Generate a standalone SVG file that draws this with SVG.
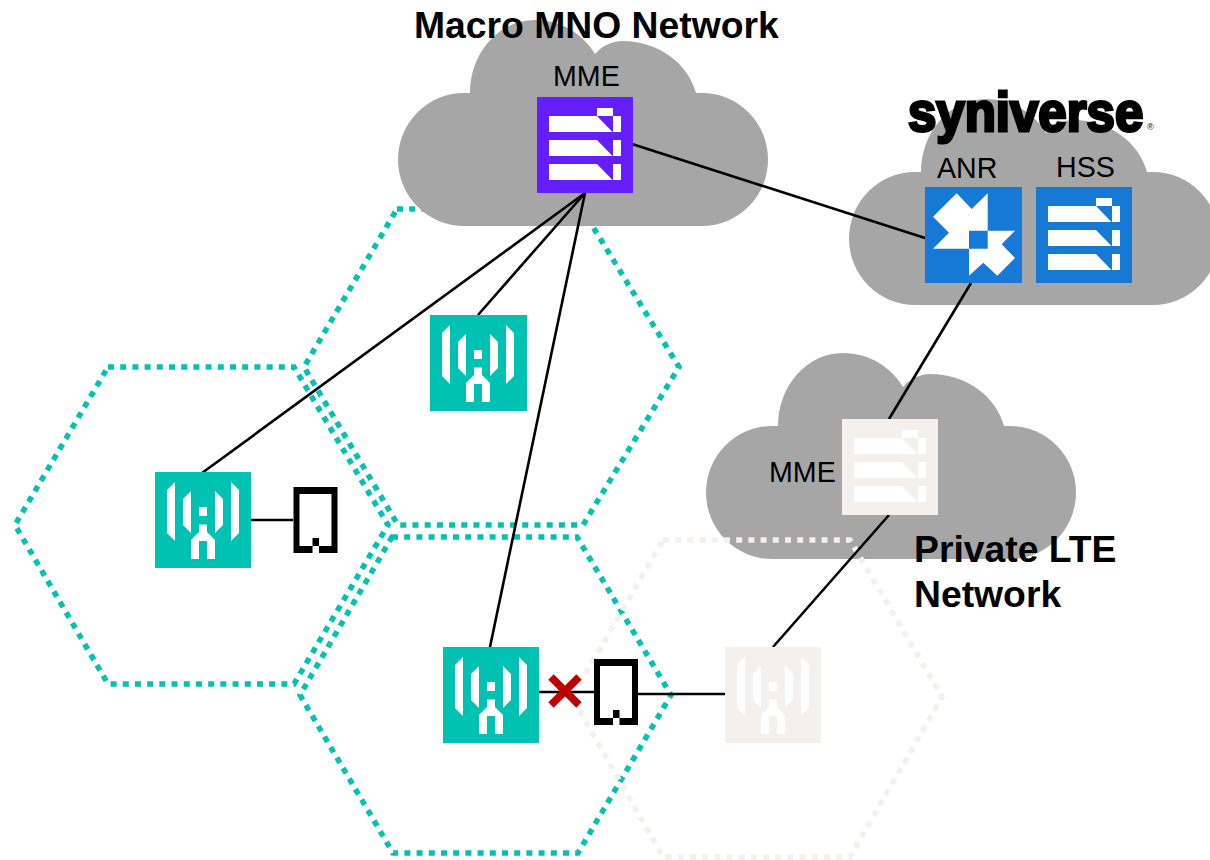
<svg xmlns="http://www.w3.org/2000/svg" xmlns:xlink="http://www.w3.org/1999/xlink" width="1210" height="860" viewBox="0 0 1210 860">
<style>
text{font-family:"Liberation Sans",Arial,sans-serif;fill:#000}
.lbl{font-size:28.600px}
.title{font-size:37.300px;font-weight:bold}
.cloud{fill:#a6a6a6}
.hex{fill:none;stroke-width:5.5;stroke-dasharray:6 6.2}
.teal{stroke:#00c2b2}
.pale{stroke:#f3f0ee}
.con{stroke:#000;stroke-width:2.6;fill:none}
.w{fill:#fff}
</style>
<defs>
<path id="cloud" class="cloud" d="M66,206 A66,66.500 0 0 1 66,73 H72 C72,33 101,0 137,0 C163,0 185,14 197,34 C204,26 214,21 224,21 C260,21 290,43 298,73 H304 A66,66.500 0 0 1 304,206 Z"/>
<g id="srv" class="w">
<path d="M12,19H60L75.5,35H12ZM12,43H60L75.5,59H12ZM12,67H60L75.5,83H12Z"/>
<path d="M76,19h8v16h-8ZM76,43h8v16h-8ZM76,67h8v16h-8ZM60,11h16v8H60Z"/>
</g>
<g id="twr" class="w">
<path d="M12,18L20,10V69L12,61ZM28,27L36,19V61L28,53ZM84,18L76,10V69L84,61ZM68,27L60,19V61L68,53ZM44,35h8v9h-8Z"/>
<path d="M44,52.5H52V60L60,68V87H52V69H44V87H36V68L44,60Z"/>
</g>
<path id="ph" fill-rule="evenodd" d="M0,0H44V66H25.5V59H19V66H0ZM6,7V59H19V51H25.5V59H38V7Z"/>
</defs>
<g id="hexes">
<polygon id="hex-top" class="hex teal" points="397,209 582,209 679,367 583,525 398,525 304,367"/>
<polygon id="hex-left" class="hex teal" points="108,367 294,367 388,525 294,684 108,684 15,525"/>
<polygon id="hex-bottom" class="hex teal" points="392,537 577,537 671,695 578,853 393,853 300,695"/>
</g>
<g id="cloud-macro"><use xlink:href="#cloud" href="#cloud" x="398" y="20"/></g>
<g id="cloud-syniverse"><use xlink:href="#cloud" href="#cloud" x="849" y="99"/></g>
<g id="cloud-private"><use xlink:href="#cloud" href="#cloud" x="706" y="353"/></g>
<g id="hex-private-g"><polygon id="hex-private" class="hex pale" points="663,540 850,540 942,697 850,857 663,857 572,697"/></g>
<g id="connectors">
<path class="con" d="M632,144L925,238"/>
<path class="con" d="M585,193L202,473"/>
<path class="con" d="M585,193L478,315"/>
<path class="con" d="M585,193L490,647"/>
<path class="con" d="M251,520H293"/>
<path class="con" d="M539,692H594"/>
<path class="con" d="M638,694H725"/>
<path class="con" d="M971,283L889,419"/>
<path class="con" d="M889,515L773,647"/>
</g>
<g id="title"><text class="title" x="414" y="38">Macro MNO Network</text></g>
<g id="mme-macro"><text class="lbl" x="553" y="86">MME</text><rect x="537" y="97" width="96" height="96" fill="#651fff"/><use xlink:href="#srv" href="#srv" x="537" y="97"/></g>
<g id="logo"><text transform="translate(908,131) scale(1,1.08)" font-size="51" font-weight="bold" stroke="#000" stroke-width="2.800">syniverse</text><text x="1147" y="130" font-size="9">®</text></g>
<g id="anr"><text class="lbl" x="937" y="178">ANR</text><rect x="925" y="187" width="97" height="96" fill="#1679d6"/>
<path class="w" transform="translate(925,187)" d="M31.7,6.3L46.7,22L62.7,6.3V43.7H44V61.7H8L24,45.7L8,29.7ZM90,43.7L76.7,57.3L90,71L72.3,88.7L58.3,75.7L44,88.7V61.7H62.7V43.7Z"/></g>
<g id="hss"><text class="lbl" x="1056" y="177">HSS</text><rect x="1036" y="187" width="96" height="96" fill="#1679d6"/><use xlink:href="#srv" href="#srv" x="1036" y="187"/></g>
<g id="mme-private"><text class="lbl" x="769" y="482">MME</text><rect x="842" y="419" width="96" height="96" fill="#f3f0ee"/><use xlink:href="#srv" href="#srv" x="842" y="419"/></g>
<g id="private-label"><text class="title" x="914" y="562">Private LTE</text><text class="title" x="914" y="607">Network</text></g>
<g id="enb-top"><rect x="430" y="315" width="97" height="96" fill="#00c2b2"/><use xlink:href="#twr" href="#twr" x="430" y="315"/></g>
<g id="enb-left"><rect x="155" y="472" width="96" height="96" fill="#00c2b2"/><use xlink:href="#twr" href="#twr" x="155" y="472"/></g>
<g id="enb-bottom"><rect x="443" y="647" width="96" height="96" fill="#00c2b2"/><use xlink:href="#twr" href="#twr" x="443" y="647"/></g>
<g id="enb-private"><rect x="725" y="647" width="96" height="96" fill="#f3f0ee"/><use xlink:href="#twr" href="#twr" x="725" y="647"/></g>
<g id="phone-left"><use xlink:href="#ph" href="#ph" x="293.500" y="487"/></g>
<g id="phone-bottom"><use xlink:href="#ph" href="#ph" x="594" y="659"/></g>
<g id="cross"><path d="M551,677L579,705M579,677L551,705" stroke="#c00000" stroke-width="7.500" fill="none"/></g>
</svg>
